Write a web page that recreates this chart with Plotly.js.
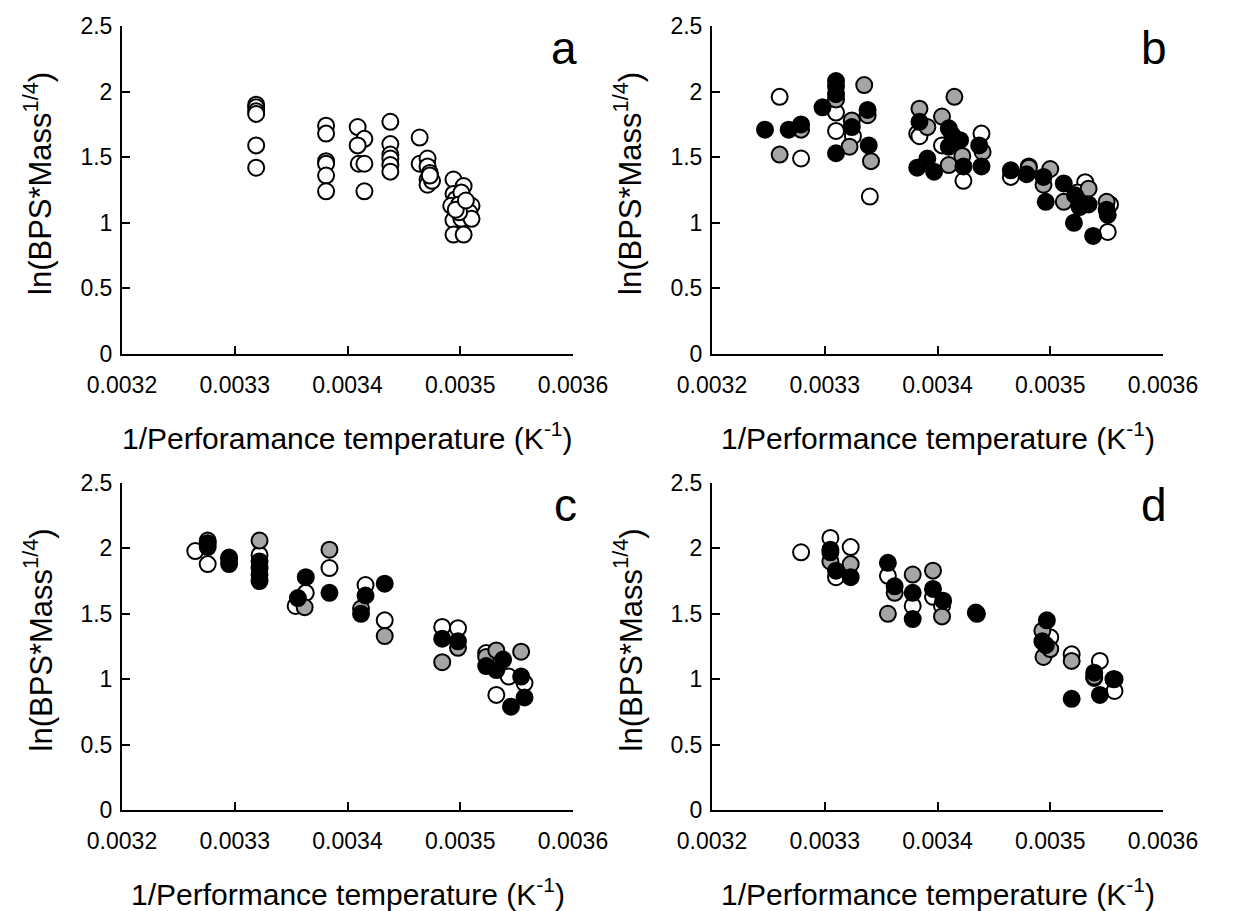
<!DOCTYPE html>
<html>
<head>
<meta charset="utf-8">
<script src="https://cdn.plot.ly/plotly-3.0.1.min.js"></script>
<style>html,body{margin:0;padding:0;background:#fff;}#chart{width:1241px;height:911px;}</style>
</head>
<body>
<div id="chart"></div>
<script>
// ---------- data ----------
const xTickVals = [0.0032, 0.0033, 0.0034, 0.0035, 0.0036];
const xTickText = ["0.0032", "0.0033", "0.0034", "0.0035", "0.0036"];
const yTickVals = [0, 0.5, 1, 1.5, 2, 2.5];
const yTickText = ["0", "0.5", "1", "1.5", "2", "2.5"];
const panelLetters = ["a", "b", "c", "d"];
const xTitles = ["1/Perforamance temperature (K<sup>-1</sup>)", "1/Performance temperature (K<sup>-1</sup>)",
                 "1/Performance temperature (K<sup>-1</sup>)", "1/Performance temperature (K<sup>-1</sup>)"];
const yTitle = "ln(BPS*Mass<sup>1/4</sup>)";

// panel a (open circles)
const aX = [0.003319,0.003319,0.003319,0.003319,0.003319,0.003319,
            0.003381,0.003381,0.003381,0.003381,0.003381,0.003381,
            0.003409,0.003415,0.003409,0.003410,0.003415,0.003415,
            0.003438,0.003438,0.003438,0.003438,0.003438,0.003438,
            0.003464,0.003464,0.003471,0.003471,0.003473,0.003471,0.003473,0.003471,0.003475,0.003473,
            0.003494,0.003494,0.003496,0.003503,0.003501,0.003492,0.003499,0.003505,0.003510,0.003508,
            0.003494,0.003501,0.003510,0.003494,0.003503,0.003499,0.003496,0.003505];
const aY = [1.90,1.88,1.85,1.83,1.59,1.42,
            1.74,1.68,1.47,1.45,1.36,1.24,
            1.73,1.64,1.59,1.45,1.45,1.24,
            1.77,1.60,1.52,1.49,1.44,1.39,
            1.65,1.45,1.49,1.43,1.38,1.33,1.31,1.29,1.32,1.36,
            1.33,1.22,1.18,1.28,1.23,1.13,1.14,1.10,1.13,1.08,
            1.02,1.03,1.03,0.91,0.91,1.08,1.10,1.17];

// panel b
const bWhiteX = [0.003260,0.003279,0.003310,0.003310,0.003325,0.003340,0.003382,0.003384,0.003404,0.003439,0.003423,0.003465,0.003481,0.003531,0.003524,0.003551,0.003553];
const bWhiteY = [1.96,1.49,1.84,1.70,1.66,1.20,1.68,1.66,1.59,1.68,1.32,1.35,1.43,1.31,1.23,0.93,1.14];
const bGrayX = [0.003260,0.003279,0.003310,0.003324,0.003322,0.003335,0.003338,0.003341,0.003384,0.003391,0.003404,0.003415,0.003410,0.003422,0.003440,0.003481,0.003500,0.003494,0.003512,0.003534,0.003550];
const bGrayY = [1.52,1.71,1.94,1.78,1.58,2.05,1.82,1.47,1.87,1.73,1.81,1.96,1.44,1.51,1.54,1.42,1.41,1.29,1.16,1.26,1.16];
const bBlackX = [0.003247,0.003268,0.003279,0.003298,0.003310,0.003310,0.003310,0.003310,0.003324,0.003338,0.003339,0.003384,0.003382,0.003391,0.003397,0.003410,0.003413,0.003420,0.003410,0.003423,0.003437,0.003439,0.003465,0.003479,0.003494,0.003496,0.003512,0.003522,0.003521,0.003526,0.003534,0.003538,0.003550,0.003551];
const bBlackY = [1.71,1.71,1.75,1.88,2.08,2.04,1.98,1.53,1.73,1.86,1.59,1.77,1.42,1.49,1.39,1.72,1.67,1.63,1.58,1.43,1.59,1.43,1.40,1.37,1.35,1.16,1.30,1.21,1.00,1.12,1.14,0.90,1.10,1.06];

// panel c
const cWhiteX = [0.003265,0.003276,0.003322,0.003363,0.003354,0.003384,0.003416,0.003433,0.003484,0.003498,0.003523,0.003543,0.003557,0.003532];
const cWhiteY = [1.98,1.88,1.95,1.66,1.56,1.85,1.72,1.45,1.40,1.39,1.20,1.02,0.97,0.88];
const cGrayX = [0.003276,0.003295,0.003322,0.003362,0.003412,0.003384,0.003433,0.003484,0.003498,0.003523,0.003532,0.003554];
const cGrayY = [2.06,1.93,2.06,1.55,1.54,1.99,1.33,1.13,1.24,1.17,1.22,1.21];
const cBlackX = [0.003276,0.003276,0.003295,0.003295,0.003322,0.003322,0.003322,0.003322,0.003363,0.003356,0.003384,0.003416,0.003412,0.003433,0.003484,0.003498,0.003523,0.003532,0.003538,0.003554,0.003557,0.003545];
const cBlackY = [2.04,2.01,1.92,1.88,1.90,1.85,1.80,1.75,1.78,1.62,1.66,1.64,1.50,1.73,1.31,1.29,1.10,1.07,1.15,1.02,0.86,0.79];

// panel d
const dWhiteX = [0.003279,0.003305,0.003323,0.003310,0.003356,0.003378,0.003396,0.003404,0.003500,0.003519,0.003544,0.003557,0.003539];
const dWhiteY = [1.97,2.08,2.01,1.78,1.79,1.56,1.63,1.56,1.32,1.19,1.14,0.91,1.01];
const dGrayX = [0.003305,0.003323,0.003362,0.003356,0.003378,0.003396,0.003404,0.003434,0.003493,0.003494,0.003500,0.003519,0.003539,0.003557];
const dGrayY = [1.90,1.88,1.66,1.50,1.80,1.83,1.48,1.51,1.37,1.17,1.23,1.14,1.02,1.00];
const dBlackX = [0.003305,0.003305,0.003310,0.003323,0.003356,0.003362,0.003378,0.003378,0.003396,0.003405,0.003435,0.003497,0.003493,0.003496,0.003519,0.003539,0.003544,0.003556];
const dBlackY = [1.99,1.97,1.83,1.78,1.89,1.71,1.66,1.46,1.69,1.60,1.50,1.45,1.29,1.26,0.85,1.05,0.88,1.00];

// ---------- drawing ----------
const W = 1241, H = 911;
const FONT = "Liberation Sans, Arial, sans-serif";
const fills = {white: "#ffffff", gray: "#a5a5a5", black: "#000000"};

function trace(x, y, fill, n) {
  return {
    type: "scatter", mode: "markers", x: x, y: y,
    xaxis: "x" + (n === 1 ? "" : n), yaxis: "y" + (n === 1 ? "" : n),
    marker: {symbol: "circle", size: 16, color: fill, line: {color: "#000", width: 2}},
    showlegend: false, hoverinfo: "x+y"
  };
}

const data = [
  trace(aX, aY, fills.white, 1),
  trace(bWhiteX, bWhiteY, fills.white, 2),
  trace(bGrayX, bGrayY, fills.gray, 2),
  trace(bBlackX, bBlackY, fills.black, 2),
  trace(cWhiteX, cWhiteY, fills.white, 3),
  trace(cGrayX, cGrayY, fills.gray, 3),
  trace(cBlackX, cBlackY, fills.black, 3),
  trace(dWhiteX, dWhiteY, fills.white, 4),
  trace(dGrayX, dGrayY, fills.gray, 4),
  trace(dBlackX, dBlackY, fills.black, 4)
];

// pixel geometry of panels
const panels = [
  {l: 122, r: 573, t: 26, b: 354},
  {l: 712, r: 1163, t: 26, b: 354},
  {l: 122, r: 573, t: 483, b: 810},
  {l: 712, r: 1163, t: 483, b: 810}
];

const layout = {
  width: W, height: H,
  margin: {l: 0, r: 0, t: 0, b: 0},
  paper_bgcolor: "#fff", plot_bgcolor: "#fff",
  font: {family: FONT, color: "#000"},
  showlegend: false,
  annotations: []
};

panels.forEach((p, i) => {
  const n = i + 1, s = n === 1 ? "" : String(n);
  layout["xaxis" + s] = {
    domain: [p.l / W, p.r / W], anchor: "y" + s,
    range: [0.0032, 0.0036], tickmode: "array", tickvals: xTickVals, ticktext: xTickText,
    ticks: "inside", ticklen: 8, tickwidth: 2, tickcolor: "#000",
    showline: true, linecolor: "#000", linewidth: 2,
    showgrid: false, zeroline: false, fixedrange: true,
    tickfont: {family: FONT, size: 23, color: "#000"}, ticklabelstandoff: 9
  };
  layout["yaxis" + s] = {
    domain: [1 - p.b / H, 1 - p.t / H], anchor: "x" + s,
    range: [0, 2.5], tickmode: "array", tickvals: yTickVals, ticktext: yTickText,
    ticks: "inside", ticklen: 8, tickwidth: 2, tickcolor: "#000",
    showline: true, linecolor: "#000", linewidth: 2,
    showgrid: false, zeroline: false, fixedrange: true,
    tickfont: {family: FONT, size: 23, color: "#000"}, ticklabelstandoff: 3
  };
  // x title
  layout.annotations.push({
    xref: "paper", yref: "paper", x: (p.l + p.r) / 2 / W, y: 1 - (p.b + 82) / H,
    xanchor: "center", yanchor: "middle", showarrow: false,
    text: xTitles[i], font: {family: FONT, size: 30, color: "#000"}
  });
  // y title
  layout.annotations.push({
    xref: "paper", yref: "paper", x: (p.l - 84) / W, y: 1 - ((p.t + p.b) / 2 - 6) / H,
    xanchor: "center", yanchor: "middle", showarrow: false, textangle: -90,
    text: yTitle, font: {family: FONT, size: 31, color: "#000"}
  });
  // panel letter
  layout.annotations.push({
    xref: "paper", yref: "paper", x: (p.r + 6) / W, y: 1 - (p.t + 22) / H,
    xanchor: "right", yanchor: "middle", showarrow: false,
    text: panelLetters[i], font: {family: FONT, size: 46, color: "#000"}
  });
});

Plotly.newPlot("chart", data, layout, {staticPlot: true, displayModeBar: false});
</script>
</body>
</html>
